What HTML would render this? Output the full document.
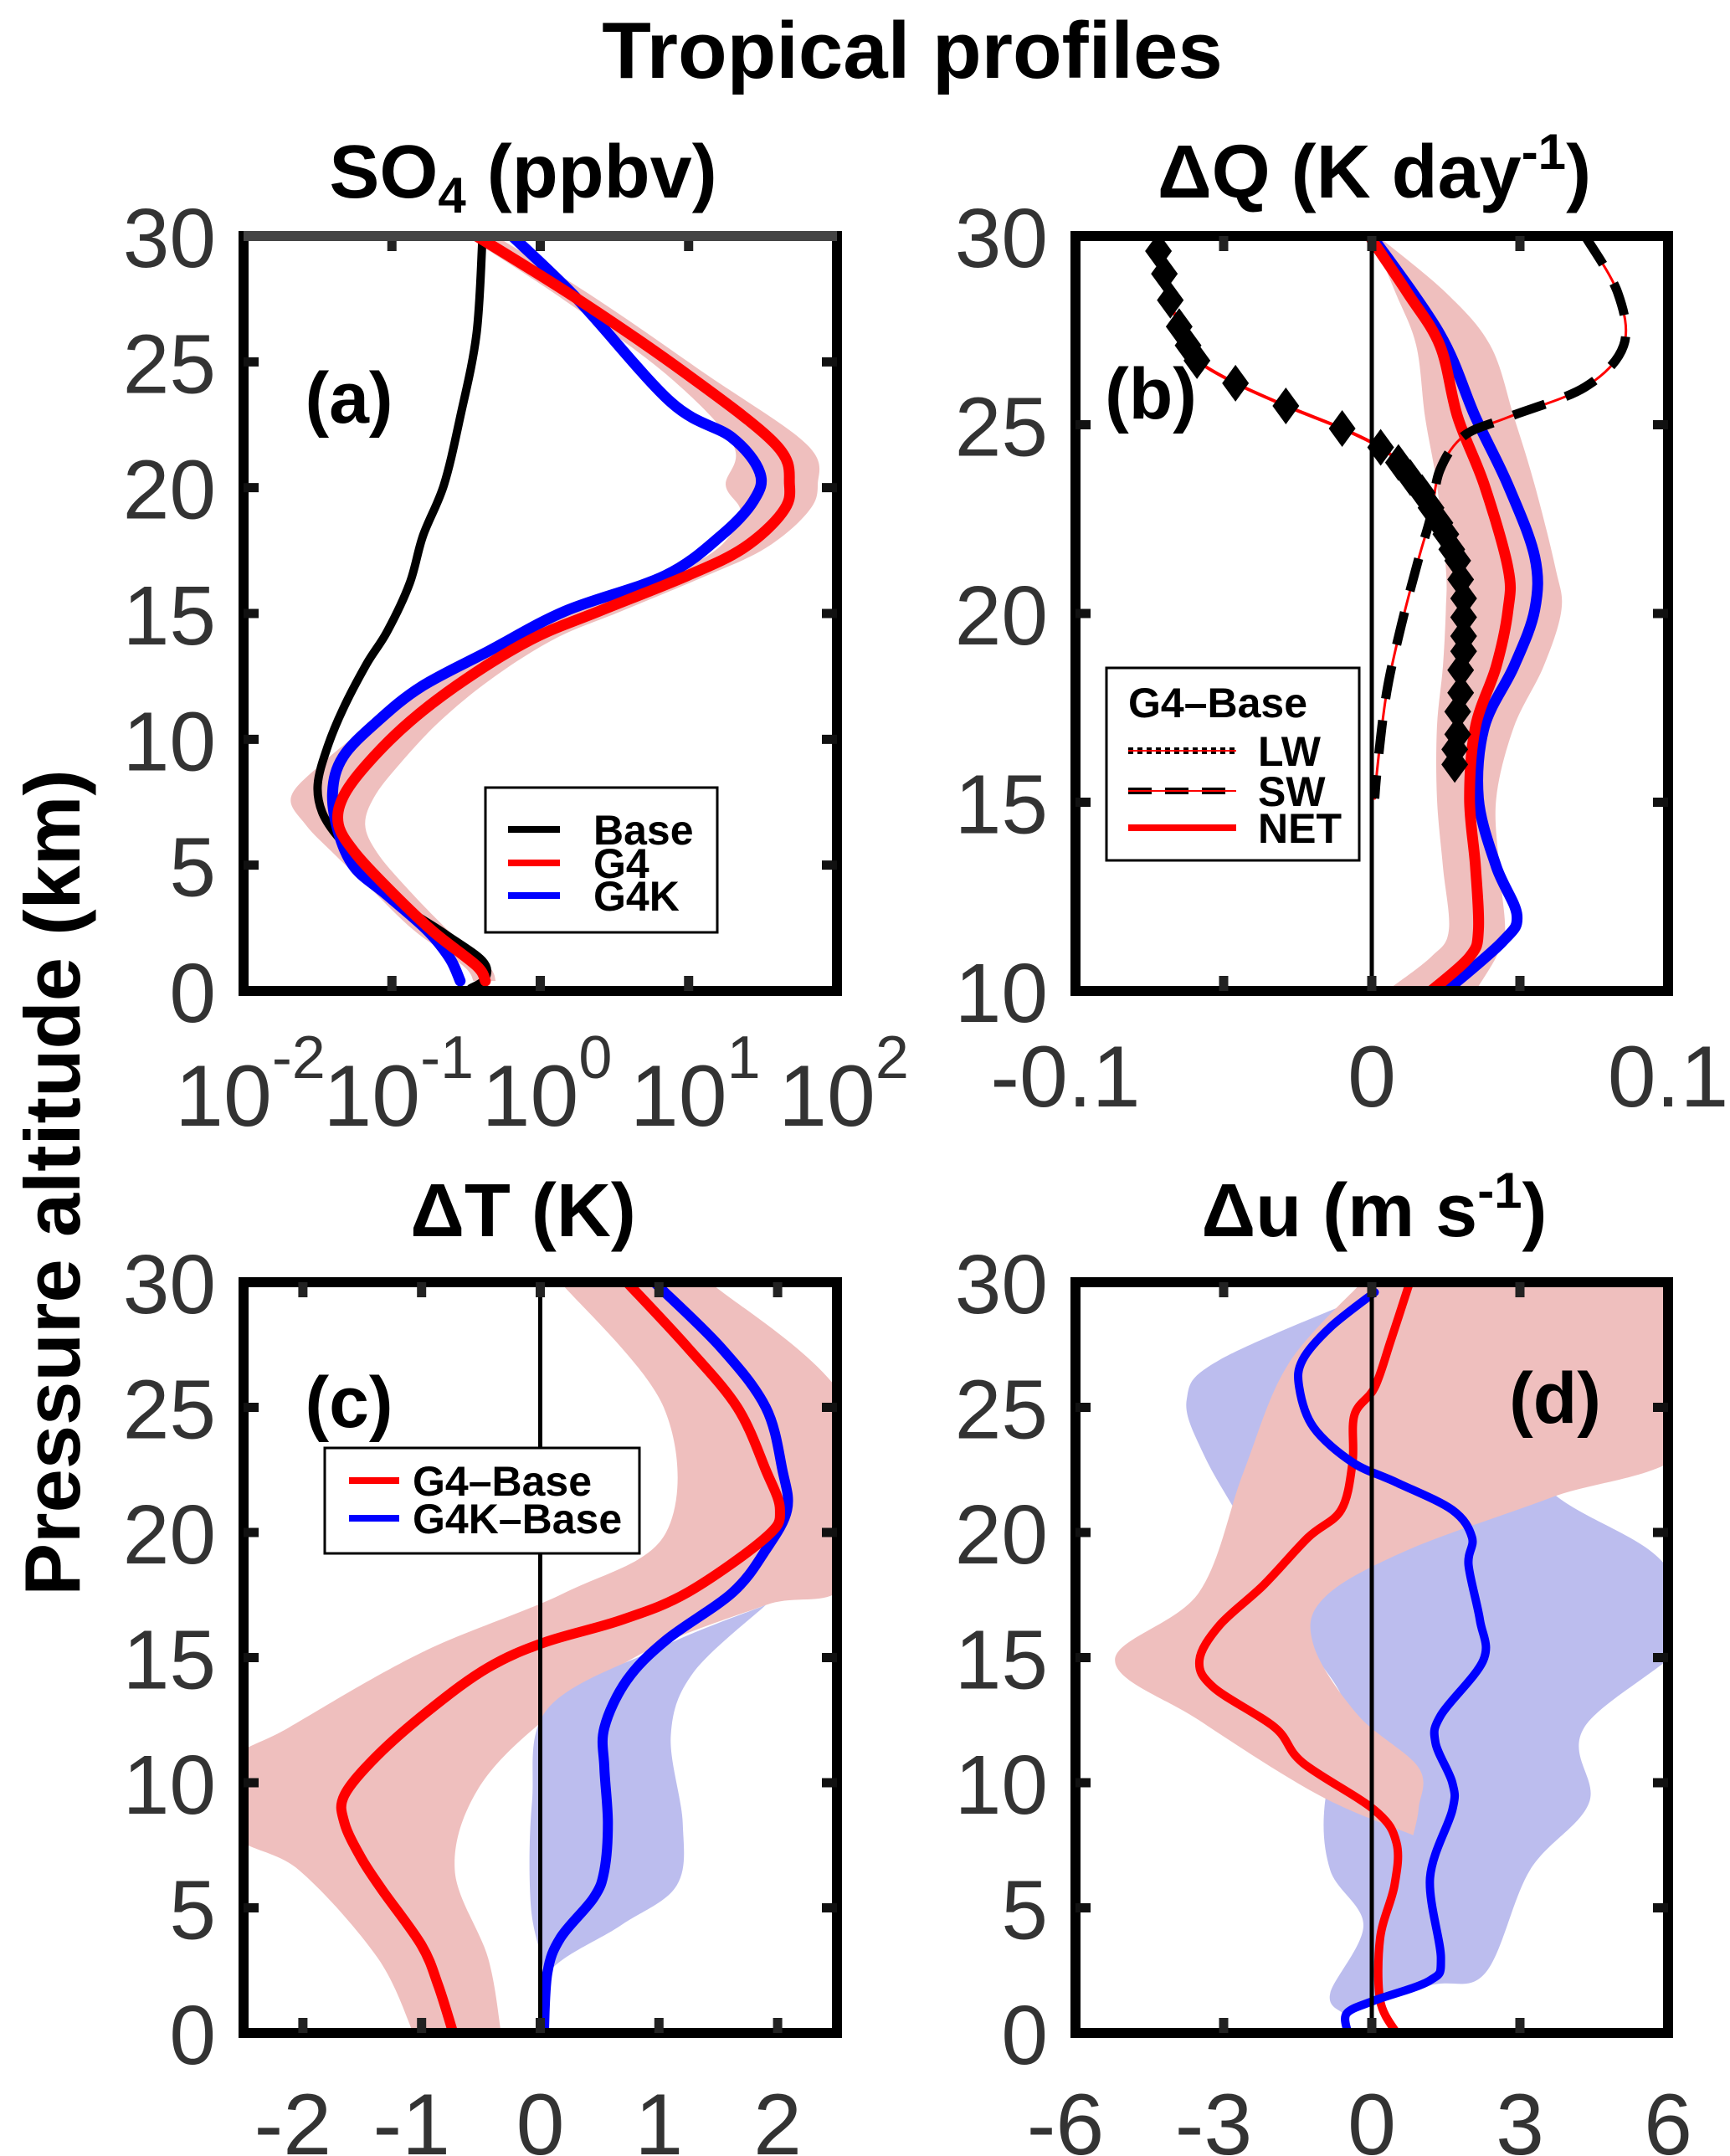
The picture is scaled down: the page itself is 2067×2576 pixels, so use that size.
<!DOCTYPE html>
<html><head><meta charset="utf-8"><style>
html,body{margin:0;padding:0;background:#fff;}
svg{display:block;}
text{font-family:"Liberation Sans",Arial,sans-serif;}
</style></head><body>
<svg id="fig" xmlns="http://www.w3.org/2000/svg" width="2067" height="2576" viewBox="0 0 2067 2576">
<defs>
<clipPath id="clipA"><rect x="291" y="282" width="709" height="902"/></clipPath>
<clipPath id="clipB"><rect x="1285" y="282" width="708" height="902"/></clipPath>
<clipPath id="clipC"><rect x="291" y="1532" width="709" height="897"/></clipPath>
<clipPath id="clipD"><rect x="1285" y="1532" width="708" height="897"/></clipPath>
</defs>
<text x="1090" y="93" font-size="96" font-weight="bold" text-anchor="middle" fill="#000">Tropical profiles</text>
<text transform="translate(95,1413) rotate(-90)" font-size="94" font-weight="bold" text-anchor="middle" fill="#000">Pressure altitude (km)</text>
<text x="625" y="236" font-size="90" font-weight="bold" text-anchor="middle">SO<tspan font-size="60" dy="18">4</tspan><tspan dy="-18"> (ppbv)</tspan></text>
<text x="1642" y="236" font-size="90" font-weight="bold" text-anchor="middle">ΔQ (K day<tspan font-size="60" dy="-34">-1</tspan><tspan dy="34">)</tspan></text>
<text x="625" y="1477" font-size="90" font-weight="bold" text-anchor="middle">ΔT (K)</text>
<text x="1642" y="1477" font-size="90" font-weight="bold" text-anchor="middle">Δu (m s<tspan font-size="60" dy="-34">-1</tspan><tspan dy="34">)</tspan></text>
<g id="layer"></g>
</svg>
<script>
// ---------- Panel (a) SO4 data: log10(ppbv) ----------
const aBaseAlt = [29.9,26.1,22.8,20.1,18.1,16.2,14.3,13.0,11.2,9.6,8.2,7.1,6.1,5.0,3.5,2.3,1.2,0.5,0.1];
const aBaseVal = [-0.39,-0.43,-0.54,-0.65,-0.79,-0.88,-1.03,-1.17,-1.33,-1.44,-1.50,-1.47,-1.36,-1.17,-0.95,-0.65,-0.39,-0.37,-0.47];
const aG4Alt = [30,27.5,24.5,21.7,20.1,19,17.6,16.5,15.1,14,12.4,10.7,9.0,7.7,6.6,5.5,4.1,2.4,1.0,0.4];
const aG4Val = [-0.43,0.25,0.99,1.59,1.68,1.63,1.37,0.99,0.40,-0.05,-0.50,-0.88,-1.17,-1.33,-1.36,-1.25,-1.03,-0.73,-0.43,-0.37];
const aG4KAlt = [30,27.5,23.4,22,20.6,19.5,18.1,16.5,15.1,13.5,12.1,10.7,9.3,7.9,6.3,4.9,3.8,2.4,1.3,0.4];
const aG4KVal = [-0.19,0.25,0.88,1.29,1.48,1.44,1.22,0.84,0.17,-0.35,-0.80,-1.10,-1.33,-1.40,-1.36,-1.25,-1.03,-0.76,-0.61,-0.54];
const aBandAlt = [30,27.5,24.5,21.7,20.1,19,17.6,16.5,15.1,14,12.4,10.7,9.0,7.7,6.6,5.5,4.1,2.4,1.0,0.4];
const aBandLo = [-0.50,0.15,0.85,1.30,1.25,1.35,1.20,0.85,0.25,-0.22,-0.70,-1.12,-1.48,-1.68,-1.58,-1.40,-1.15,-0.85,-0.52,-0.45];
const aBandHi = [-0.30,0.38,1.12,1.80,1.87,1.80,1.52,1.12,0.55,0.10,-0.33,-0.68,-0.95,-1.12,-1.18,-1.10,-0.90,-0.62,-0.35,-0.30];
const aXTicks = [-2,-1,0,1,2];
// ---------- Panel (b) heating rates ----------
const bNetAlt = [29.9,28.5,27.1,25.2,23.4,21.2,20.1,18.6,17,15.1,13.3,11.6,10.9,10];
const bNetVal = [0,0.012,0.023,0.029,0.038,0.046,0.046,0.042,0.035,0.033,0.035,0.036,0.033,0.02];
const bG4KAlt = [30,27.4,25.2,23.4,21.5,20.1,18.6,17,15.1,13.3,12,11.3,10];
const bG4KVal = [0,0.023,0.035,0.046,0.055,0.055,0.048,0.038,0.036,0.042,0.049,0.044,0.025];
const bLWAlt = [29.6,29.0,28.3,27.6,27.1,26.7,26.1,25.5,24.9,24.4,24.0,23.6,23.2,22.8,22.4,22.1,21.7,21.4,20.9,20.4,19.9,19.4,19.0,18.5,17.9,17.4,16.8,16.4,16.0];
const bLWVal = [-0.072,-0.070,-0.068,-0.065,-0.062,-0.059,-0.046,-0.029,-0.010,0.003,0.009,0.013,0.017,0.020,0.023,0.025,0.027,0.029,0.030,0.031,0.031,0.031,0.031,0.030,0.030,0.029,0.029,0.028,0.028];
const bSWAlt = [30,28.5,27.1,26,25.2,24.7,23.8,22.6,21.5,19.7,17.9,16,15.1];
const bSWVal = [0.072,0.083,0.085,0.072,0.046,0.031,0.023,0.020,0.016,0.010,0.005,0.002,0.001];
const bBandAlt = [30,28.5,27.1,25.2,23.4,21.2,20.1,18.6,17,15.1,13.3,11.6,10.9,10];
const bBandLo = [0,0.008,0.015,0.018,0.022,0.025,0.025,0.024,0.022,0.022,0.024,0.026,0.020,0.005];
const bBandHi = [0.002,0.025,0.04,0.048,0.055,0.062,0.064,0.058,0.048,0.042,0.043,0.045,0.042,0.035];
const bXTicks = [-0.05,0,0.05];
// ---------- Panel (c) temperature ----------
const cG4Alt = [30,27.4,25,22.5,20.9,19.8,17.6,16.5,15.6,14.6,13,11.1,9.5,8.4,7,5.7,3.5,1.9,0.1];
const cG4Val = [0.73,1.24,1.66,1.90,2.02,1.90,1.24,0.68,0.03,-0.44,-0.91,-1.37,-1.65,-1.65,-1.51,-1.33,-1.0,-0.86,-0.74];
const cG4KAlt = [30,27.4,25,22.5,20.9,19.3,17.6,15.7,14.1,12.2,10.6,8.4,6.5,5.4,3.8,2.4,0];
const cG4KVal = [0.96,1.52,1.90,2.04,2.08,1.90,1.62,1.06,0.73,0.54,0.54,0.57,0.54,0.45,0.17,0.06,0.03];
const cRedLoAlt = [30,25,20,17.6,15.2,12.2,10.8,8,6.5,3,0];
const cRedLoVal = [0.17,1.04,1.06,0.21,-1.0,-2.12,-2.6,-2.6,-2.03,-1.37,-1.07];
const cRedHiAlt = [30,25,18.2,17.1,15.2,12.5,9.7,6.5,3,0];
const cRedHiVal = [1.43,2.6,2.6,1.9,0.87,0.03,-0.53,-0.72,-0.44,-0.33];
const cBlueLoAlt = [17.1,15.5,13,9.2,5.1,2.4,0];
const cBlueLoVal = [1.9,1.06,0.07,-0.07,-0.08,0.03,0.03];
const cBlueHiAlt = [17.1,14.4,11.9,8.4,5.9,4.3,2.4,0];
const cBlueHiVal = [1.9,1.29,1.1,1.2,1.15,0.68,0.07,0.03];
const cXTicks = [-2,-1,0,1,2];
// ---------- Panel (d) zonal wind ----------
const dG4Alt = [30,27.7,25.8,24.7,22.8,20.9,19.8,17.9,16.3,14.9,13.8,12.2,10.8,8.9,7.6,5.9,3.8,1.3,0];
const dG4Val = [0.77,0.39,0.06,-0.35,-0.39,-0.62,-1.29,-2.19,-3.08,-3.49,-3.2,-1.96,-1.4,0.06,0.5,0.46,0.17,0.17,0.5];
const dG4KAlt = [29.6,28.2,26.9,25.8,24.2,22.8,22,20.9,19.8,18.7,16.5,14.9,12.7,11.6,10,8.9,6.2,3,2.1,1.3,0.8,0.1];
const dG4KVal = [0.06,-0.84,-1.4,-1.47,-1.18,-0.39,0.5,1.63,2.03,1.96,2.19,2.26,1.4,1.29,1.63,1.63,1.18,1.4,1.18,0.06,-0.5,-0.5];
const dG4KTopAlt = [29.9,29.9,29.6];
const dG4KTopVal = [-2.97,0.0,0.06];
const dRedLoAlt = [30,26.7,22.4,17.6,14.9,12.5,9.5,7.9];
const dRedLoVal = [-0.2,-1.7,-2.6,-3.5,-5.2,-3.5,-1.07,0.84];
const dRedHiAlt = [30,30,23.6,21.4,19.3,17.4,15.5,12.7,10.6,9,7.9];
const dRedHiVal = [0.5,6.5,6.5,3.64,0.73,-0.96,-1.18,-0.28,0.95,0.95,0.84];
const dBlueLoAlt = [29.6,26.9,25.3,23.1,20.3,17.1,15.2,12.7,9.2,6.5,4.3,1.6,0.8];
const dBlueLoVal = [0.06,-3.08,-3.75,-3.4,-2.6,-1.74,-1.18,-0.5,-0.95,-0.84,-0.17,-0.84,-0.6];
const dBlueHiAlt = [29.6,28,25,21.7,19,16,12.2,9.2,6.5,2.4,1.9,0.8];
const dBlueHiVal = [0.06,1.4,2.75,3.6,5.8,6.5,4.3,4.4,3.2,2.3,1.18,-0.6];
const dXTicks = [-6,-3,0,3,6];

const NS = 'http://www.w3.org/2000/svg';
const layer = document.getElementById('layer');
function mk(tag, attrs, parent){
  const e = document.createElementNS(NS, tag);
  for (const k in attrs) e.setAttribute(k, attrs[k]);
  (parent||layer).appendChild(e);
  return e;
}
function scale(d0,d1,r0,r1){ return v => r0 + (v-d0)/(d1-d0)*(r1-r0); }

const panels = {
  a:{x0:291,x1:1000,y0:282,y1:1184,xmin:-2,xmax:2,amin:0,amax:30,clip:'clipA'},
  b:{x0:1285,x1:1993,y0:282,y1:1184,xmin:-0.1,xmax:0.1,amin:10,amax:30,clip:'clipB'},
  c:{x0:291,x1:1000,y0:1532,y1:2429,xmin:-2.5,xmax:2.5,amin:0,amax:30,clip:'clipC'},
  d:{x0:1285,x1:1993,y0:1532,y1:2429,xmin:-6,xmax:6,amin:0,amax:30,clip:'clipD'}
};
for (const k in panels){ const p=panels[k]; p.X=scale(p.xmin,p.xmax,p.x0,p.x1); p.Y=scale(p.amin,p.amax,p.y1,p.y0);
  p.g = mk('g',{'clip-path':'url(#'+p.clip+')'}); }

function xy(p, alts, vals){ return alts.map((a,i)=>[p.X(vals[i]), p.Y(a)]); }
function smoothPath(P, move){
  let d = (move?'M':'L') + P[0][0].toFixed(1)+','+P[0][1].toFixed(1);
  for (let i=0;i<P.length-1;i++){
    const p0=P[Math.max(0,i-1)], p1=P[i], p2=P[i+1], p3=P[Math.min(P.length-1,i+2)];
    const c1=[p1[0]+(p2[0]-p0[0])/6, p1[1]+(p2[1]-p0[1])/6];
    const c2=[p2[0]-(p3[0]-p1[0])/6, p2[1]-(p3[1]-p1[1])/6];
    d += ` C${c1[0].toFixed(1)},${c1[1].toFixed(1)} ${c2[0].toFixed(1)},${c2[1].toFixed(1)} ${p2[0].toFixed(1)},${p2[1].toFixed(1)}`;
  }
  return d;
}
function line(p, alts, vals, color, w, name, dash){
  const e = mk('path',{d:smoothPath(xy(p,alts,vals),true),fill:'none',stroke:color,'stroke-width':w,'stroke-linejoin':'round','stroke-linecap':dash?'butt':'round'}, p.g);
  if (dash) e.setAttribute('stroke-dasharray', dash);
  
  
  return e;
}
function band(p, aLo, vLo, aHi, vHi, color, name){
  const lo = xy(p,aLo,vLo), hi = xy(p,aHi.slice().reverse(),vHi.slice().reverse());
  const d = smoothPath(lo,true) + ' ' + smoothPath(hi,false) + ' Z';
  const e = mk('path',{d:d,fill:color,stroke:'none'}, p.g);
  
  
}
const PINK='#efbfbe', LAV='#bcbdee';

// Panel a
band(panels.a, aBandAlt, aBandLo, aBandAlt, aBandHi, PINK, 'g4-spread-band');
line(panels.a, aBaseAlt, aBaseVal, '#000', 10, 'base-so4-line');
line(panels.a, aG4KAlt, aG4KVal, '#0000ff', 13, 'g4k-so4-line');
line(panels.a, aG4Alt, aG4Val, '#ff0000', 13, 'g4-so4-line');
// Panel b
band(panels.b, bBandAlt, bBandLo, bBandAlt, bBandHi, PINK, 'net-spread-band');
line(panels.b, bG4KAlt, bG4KVal, '#0000ff', 13, 'g4k-net-line');
line(panels.b, bNetAlt, bNetVal, '#ff0000', 13, 'net-heating-line');
line(panels.b, bSWAlt, bSWVal, '#ff0000', 3, 'sw-thin-line');
line(panels.b, bSWAlt, bSWVal, '#000', 11, 'sw-heating-line', '40 26');
line(panels.b, bLWAlt, bLWVal, '#ff0000', 4, 'lw-heating-line');
bLWAlt.forEach((a,i)=>{
  const cx=panels.b.X(bLWVal[i]), cy=panels.b.Y(a);
  const d = mk('polygon',{points:`${cx},${cy-22} ${cx+16},${cy} ${cx},${cy+22} ${cx-16},${cy}`,fill:'#000'}, panels.b.g);
  
  
});
// Panel c
band(panels.c, cRedLoAlt, cRedLoVal, cRedHiAlt, cRedHiVal, PINK, 'g4-spread-band');
band(panels.c, cBlueLoAlt, cBlueLoVal, cBlueHiAlt, cBlueHiVal, LAV, 'g4k-spread-band');
line(panels.c, cG4KAlt, cG4KVal, '#0000ff', 12, 'g4k-temp-line');
line(panels.c, cG4Alt, cG4Val, '#ff0000', 12, 'g4-temp-line');
// Panel d
band(panels.d, dBlueLoAlt, dBlueLoVal, dBlueHiAlt, dBlueHiVal, LAV, 'g4k-spread-band');
band(panels.d, dRedLoAlt, dRedLoVal, dRedHiAlt, dRedHiVal, PINK, 'g4-spread-band');
line(panels.d, dG4Alt, dG4Val, '#ff0000', 10, 'g4-wind-line');
line(panels.d, dG4KAlt, dG4KVal, '#0000ff', 10, 'g4k-wind-line');
const topSeg = mk('polyline',{points:xy(panels.d,dG4KTopAlt,dG4KTopVal).map(q=>q.join(',')).join(' '),fill:'none',stroke:'#0000ff','stroke-width':4}, panels.d.g);



// zero lines
['b','c','d'].forEach(k=>{ const p=panels[k];
  const z = mk('line',{x1:p.X(0),x2:p.X(0),y1:p.y0,y2:p.y1,stroke:'#000','stroke-width':5});
  
  
});

// frames, ticks, labels
function axes(k, yTicks, xTicks){
  const p = panels[k];
  const f = mk('rect',{x:p.x0,y:p.y0,width:p.x1-p.x0,height:p.y1-p.y0,fill:'none',stroke:'#000','stroke-width':12});
  
  
  yTicks.forEach(v=>{ const y=p.Y(v);
    if (v>p.amin && v<p.amax){
      mk('line',{x1:p.x0,x2:p.x0+18,y1:y,y2:y,stroke:'#111','stroke-width':11});
      mk('line',{x1:p.x1-18,x2:p.x1,y1:y,y2:y,stroke:'#111','stroke-width':11});
    }
    const t = mk('text',{x:p.x0-33,y:y+37,'font-size':100,'text-anchor':'end',fill:'#333'});
    t.textContent = v;
    
    
  });
  xTicks.forEach(v=>{ const x=p.X(v);
    if (v>p.xmin && v<p.xmax){
      mk('line',{x1:x,x2:x,y1:p.y0,y2:p.y0+18,stroke:'#222','stroke-width':11});
      mk('line',{x1:x,x2:x,y1:p.y1-18,y2:p.y1,stroke:'#222','stroke-width':11});
    }
  });
}
axes('a',[0,5,10,15,20,25,30],aXTicks);
axes('b',[10,15,20,25,30],bXTicks);
axes('c',[0,5,10,15,20,25,30],cXTicks);
axes('d',[0,5,10,15,20,25,30],dXTicks);
mk('line',{x1:291,x2:1000,y1:282,y2:282,stroke:'#444','stroke-width':12});

// x tick labels
aXTicks.forEach(v=>{
  const t = mk('text',{x:panels.a.X(v)+8,y:1345,'font-size':104,'text-anchor':'middle',fill:'#333'});
  
  
  const b = mk('tspan',{},t); b.textContent='10';
  const s = mk('tspan',{'font-size':72,dy:-57},t); s.textContent=String(v);
});
function numLabels(k, vals, y){
  const p=panels[k];
  vals.forEach(v=>{
    const t = mk('text',{x:p.X(v)-(v<0?12:0),y:y,'font-size':104,'text-anchor':'middle',fill:'#333'});
    t.textContent = String(v);
    
    
  });
}
numLabels('b',[-0.1,0,0.1],1322);
numLabels('c',[-2,-1,0,1,2],2574);
numLabels('d',[-6,-3,0,3,6],2574);

// panel labels
[['(a)',417,505],['(b)',1375,500],['(c)',417,1705],['(d)',1858,1700]].forEach(([s,x,y])=>{
  const t = mk('text',{x:x,y:y,'font-size':86,'font-weight':'bold','text-anchor':'middle',fill:'#000'});
  t.textContent=s;
  
  
});

// legends
function legend(box, entries, name){
  const g = mk('g',{});
  
  
  mk('rect',{x:box[0],y:box[1],width:box[2],height:box[3],fill:'#fff',stroke:'#000','stroke-width':3},g);
  entries.forEach(e=>{
    if (e.line){
      const l = mk('line',{x1:e.lx0,x2:e.lx1,y1:e.y,y2:e.y,stroke:e.color,'stroke-width':e.w||8},g);
      if (e.dash) l.setAttribute('stroke-dasharray',e.dash);
      if (e.under) mk('line',{x1:e.lx0,x2:e.lx1,y1:e.y,y2:e.y,stroke:'#f00','stroke-width':2},g);
    }
    const t = mk('text',{x:e.tx,y:e.y+18,'font-size':e.fs||50,'font-weight':'bold',fill:'#000'},g);
    t.textContent = e.label;
  });
}
legend([580,941,277,173],[
  {line:1,lx0:607,lx1:669,y:991,color:'#000',tx:709,label:'Base'},
  {line:1,lx0:607,lx1:669,y:1031,color:'#f00',tx:709,label:'G4'},
  {line:1,lx0:607,lx1:669,y:1070,color:'#00f',tx:709,label:'G4K'}],'legend-panel-a');
legend([1322,798,302,230],[
  {y:839,tx:1348,label:'G4–Base'},
  {line:1,lx0:1348,lx1:1477,y:897,color:'#000',w:8,dash:'6 5',under:1,tx:1503,label:'LW'},
  {line:1,lx0:1348,lx1:1477,y:945,color:'#000',w:8,dash:'28 16',under:1,tx:1503,label:'SW'},
  {line:1,lx0:1348,lx1:1477,y:989,color:'#f00',w:8,tx:1503,label:'NET'}],'legend-panel-b');
legend([388,1730,376,126],[
  {line:1,lx0:417,lx1:477,y:1769,color:'#f00',tx:493,label:'G4–Base'},
  {line:1,lx0:417,lx1:477,y:1814,color:'#00f',tx:493,label:'G4K–Base'}],'legend-panel-c');
</script>
</body></html>
